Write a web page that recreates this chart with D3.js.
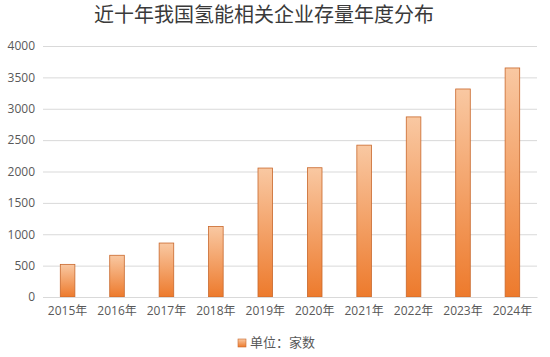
<!DOCTYPE html>
<html><head><meta charset="utf-8">
<script src="https://cdn.jsdelivr.net/npm/d3@7/dist/d3.min.js"></script>
<style>body{margin:0;background:#fff;}svg{display:block;}</style>
</head><body>
<svg id="c" width="550" height="357"></svg>
<script>
const categories = ["2015年","2016年","2017年","2018年","2019年","2020年","2021年","2022年","2023年","2024年"];
const values = [520, 665, 860, 1125, 2055, 2060, 2420, 2870, 3315, 3650];
const yTicks = [0,500,1000,1500,2000,2500,3000,3500,4000];
const title = "近十年我国氢能相关企业存量年度分布";
const legendLabel = "单位：家数";

const svg = d3.select("#c");
const m = {left:43, right:537, top:46, bottom:297};
const x = d3.scaleBand().domain(categories).range([m.left, m.right]).paddingInner(0.705).paddingOuter(0.35);
const y = d3.scaleLinear().domain([0,4000]).range([m.bottom, m.top]);

const defs = svg.append("defs");
const g = defs.append("linearGradient").attr("id","bg").attr("x1",0).attr("y1",0).attr("x2",0).attr("y2",1);
g.append("stop").attr("offset","0%").attr("stop-color","#f9c8a2");
g.append("stop").attr("offset","100%").attr("stop-color","#ed7a2c");

svg.append("text").attr("x",264).attr("y",22).attr("text-anchor","middle")
  .attr("font-family","'Noto Sans CJK SC', sans-serif").attr("font-size",20).attr("fill","#3a3a3a").text(title);

// grid
const yAxis = d3.axisLeft(y).tickValues(yTicks).tickFormat(d3.format("d")).tickSize(-(m.right-m.left)).tickPadding(8);
const ga = svg.append("g").attr("transform",`translate(${m.left},0)`).call(yAxis);
ga.select(".domain").remove();
ga.selectAll(".tick line").attr("stroke","#d9d9d9").attr("stroke-width",1);
ga.selectAll(".tick text").attr("font-family","'Open Sans', 'DejaVu Sans', sans-serif").attr("font-size",12).attr("fill","#595959");

// bars
svg.append("g").selectAll("rect").data(values).join("rect")
  .attr("x",(d,i)=>x(categories[i]))
  .attr("y",d=>y(d))
  .attr("width",x.bandwidth())
  .attr("height",d=>y(0)-y(d))
  .attr("fill","url(#bg)")
  .attr("stroke","#c8682c").attr("stroke-width",0.8);

// x axis
const xAxis = d3.axisBottom(x).tickSize(0).tickPadding(9);
const gx = svg.append("g").attr("transform",`translate(0,${m.bottom})`).call(xAxis);
gx.select(".domain").attr("stroke","#d9d9d9");
gx.selectAll(".tick text").attr("font-family","'Open Sans', 'Noto Sans CJK SC', sans-serif").attr("font-size",12).attr("fill","#595959");

// legend
svg.append("rect").attr("x",238).attr("y",339).attr("width",8).attr("height",8).attr("fill","url(#bg)").attr("stroke","#c8682c").attr("stroke-width",0.6);
svg.append("text").attr("x",250).attr("y",347).attr("font-family","'Noto Sans CJK SC', sans-serif").attr("font-size",13).attr("fill","#595959").text(legendLabel);
</script>
</body></html>
